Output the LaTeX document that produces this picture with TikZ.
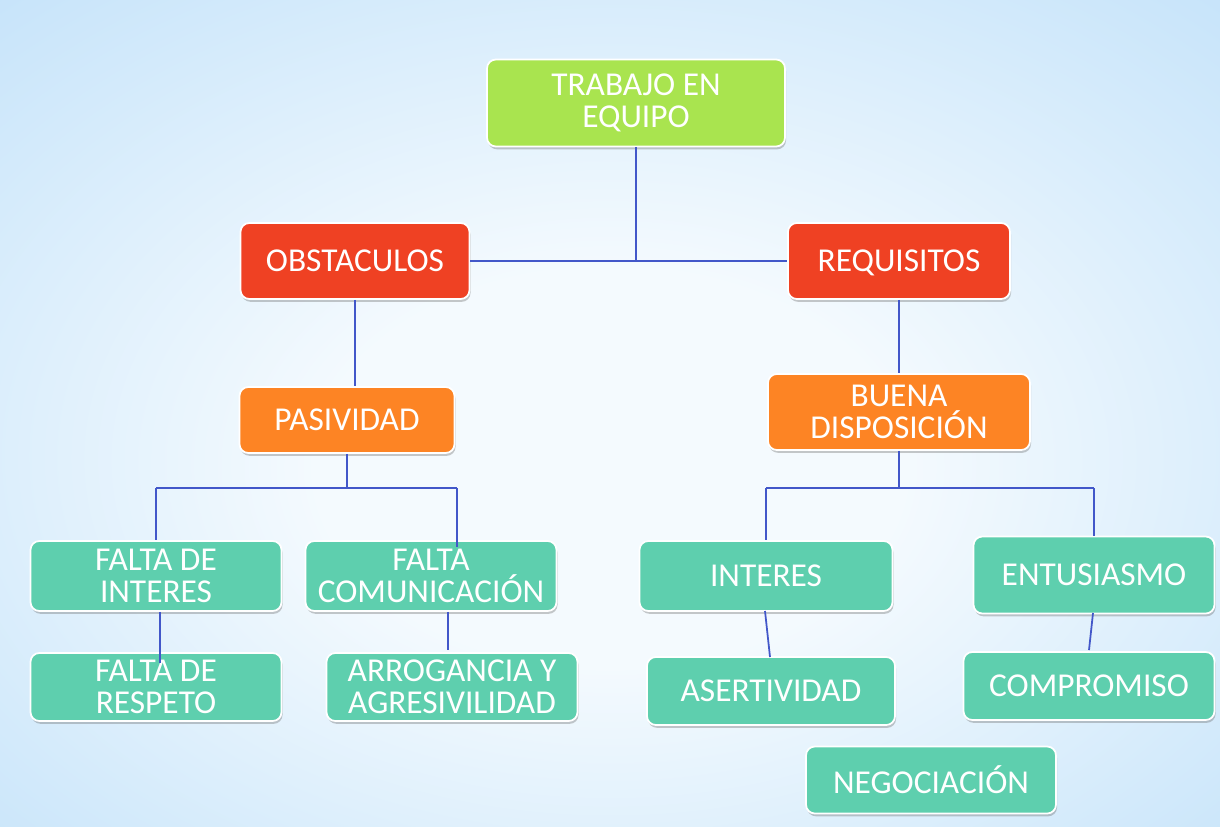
\documentclass[tikz,border=0pt]{standalone}
\usepackage{fontspec}
\setmainfont{Carlito}
\usetikzlibrary{shadows}
\definecolor{bgin}{HTML}{F4FAFE}
\definecolor{bgmid}{HTML}{D3EAFB}
\definecolor{bgmid2}{HTML}{B4DAF7}
\definecolor{bgout}{HTML}{9ACCF2}
\definecolor{cgreen}{HTML}{A9E44F}
\definecolor{cred}{HTML}{EF4123}
\definecolor{corange}{HTML}{FD8424}
\definecolor{cteal}{HTML}{5ECFAE}
\definecolor{cline}{HTML}{4257C9}
\pgfdeclareradialshading{bgshade}{\pgfpoint{0bp}{-4bp}}{color(0bp)=(bgin); color(12bp)=(bgin); color(30bp)=(bgmid); color(48bp)=(bgmid2); color(70bp)=(bgout)}
\tikzset{
  box/.style={rounded corners=5pt, draw=white, line width=1pt, text=white, align=center,
    inner sep=0pt, font=\fontsize{19}{18.5}\selectfont,
    drop shadow={shadow xshift=0.6pt, shadow yshift=-1.6pt, opacity=0.35, fill=black!60}},
  lvlA/.style={box, fill=cgreen},
  lvlB/.style={box, fill=cred},
  lvlC/.style={box, fill=corange},
  lvlD/.style={box, fill=cteal},
  conn/.style={draw=cline, line width=1.4pt},
}
\begin{document}
\begin{tikzpicture}[x=0.02cm, y=-0.02cm]
\shade[shading=bgshade] (0,0) rectangle (1220,826);
\useasboundingbox (0,0) rectangle (1220,826);

\node[lvlA, minimum width=5.96cm, minimum height=1.74cm] (top) at (636,103) {TRABAJO EN\\EQUIPO};
\node[lvlB, minimum width=4.58cm, minimum height=1.52cm] (obs) at (355,261) {OBSTACULOS};
\node[lvlB, minimum width=4.44cm, minimum height=1.52cm, text depth=0pt] (req) at (899,261) {REQUISITOS};
\node[lvlC, minimum width=4.30cm, minimum height=1.32cm] (pas) at (347,420) {PASIVIDAD};
\node[lvlC, minimum width=5.24cm, minimum height=1.52cm] (bue) at (899,412) {BUENA\\DISPOSICIÓN};

\node[lvlD, minimum width=5.02cm, minimum height=1.40cm] (fi) at (156,576) {FALTA DE\\INTERES};
\node[lvlD, minimum width=5.02cm, minimum height=1.40cm] (fc) at (431,576) {FALTA\\COMUNICACIÓN};
\node[lvlD, minimum width=5.02cm, minimum height=1.36cm] (fr) at (156,687) {FALTA DE\\RESPETO};
\node[lvlD, minimum width=5.02cm, minimum height=1.36cm] (arr) at (452,687) {ARROGANCIA Y\\AGRESIVILIDAD};
\node[lvlD, minimum width=5.06cm, minimum height=1.40cm] (int) at (766,576) {INTERES};
\node[lvlD, minimum width=4.82cm, minimum height=1.54cm] (ent) at (1094,575) {ENTUSIASMO};
\node[lvlD, minimum width=4.96cm, minimum height=1.36cm] (ase) at (771,691) {ASERTIVIDAD};
\node[lvlD, minimum width=5.02cm, minimum height=1.36cm] (com) at (1089,686) {COMPROMISO};
\node[lvlD, minimum width=5.00cm, minimum height=1.34cm] (neg) at (931,780) {NEGOCIACIÓN};

% top level
\draw[conn] (top.south) -- (top.south |- obs.east);
\draw[conn] (obs.east) -- (req.west);
\draw[conn] (obs.south) -- (obs.south |- pas.north);
\draw[conn] (req.south) -- (bue.north);

% left branch
\coordinate (pj) at (347,488);
\coordinate (pr) at (457,488);
\draw[conn] (pas.south) -- (pj);
\draw[conn] (fi.north |- pj) -- (pr);
\draw[conn] (fi.north |- pj) -- (fi.north);
\draw[conn] (pr) -- ([yshift=-0.14cm]pr |- fc.north);
\draw[conn] ([xshift=0.08cm]fi.south) -- ([xshift=0.08cm,yshift=-0.22cm]fi.south |- fr.north);
\coordinate (ca) at (448,650);
\draw[conn] (ca |- fc.south) -- (ca);

% right branch
\coordinate (bj) at (899,488);
\draw[conn] (bue.south) -- (bj);
\draw[conn] (int.north |- bj) -- (ent.north |- bj);
\draw[conn] (int.north |- bj) -- (int.north);
\draw[conn] (ent.north |- bj) -- (ent.north);
\draw[conn, line width=1pt] (765,611) -- (770,657);
\coordinate (ce) at (1089,650);
\draw[conn, line width=1pt] (1093,613) -- (ce);
\end{tikzpicture}
\end{document}
